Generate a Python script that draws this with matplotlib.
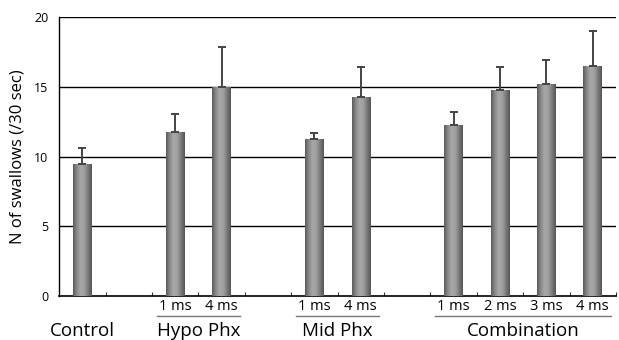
import numpy as np
import matplotlib
matplotlib.use("Agg")
import matplotlib.pyplot as plt
from matplotlib.colors import LinearSegmentedColormap
import matplotlib.transforms as mtransforms

# Data
slots = [0, 2, 3, 5, 6, 8, 9, 10, 11]
values = [9.5, 11.8, 15.0, 11.25, 14.25, 12.25, 14.8, 15.2, 16.5]
errors = [1.1, 1.25, 2.9, 0.47, 2.15, 0.95, 1.65, 1.75, 2.5]
sub_labels = ["", "1 ms", "4 ms", "1 ms", "4 ms", "1 ms", "2 ms", "3 ms", "4 ms"]
groups = ["Control", "Hypo Phx", "Mid Phx", "Combination"]
group_members = [[0], [2, 3], [5, 6], [8, 9, 10, 11]]
yticks = [0, 5, 10, 15, 20]
ylabel = "N of swallows (/30 sec)"

plt.rcParams['font.family'] = ['Open Sans', 'DejaVu Sans']

fig = plt.figure(figsize=(6.19, 3.4), dpi=100)
ax = fig.add_axes([0.0958, 0.1294, 0.8992, 0.8196])

ax.set_xlim(-0.5, 11.5)
ax.set_ylim(0, 20)

for y in yticks[1:]:
    ax.axhline(y, color="black", lw=1.0, zorder=1)

bar_w = 0.4
bars = ax.bar(slots, values, width=bar_w, color="#888888", zorder=2)
cmap = LinearSegmentedColormap.from_list(
    "cyl", ["#5a5a5a", "#8a8a8a", "#a8a8a8", "#a0a0a0", "#7a7a7a", "#555555"])
grad = np.linspace(0, 1, 64).reshape(1, -1)
for b in bars:
    x0, y0 = b.get_x(), b.get_y()
    w, h = b.get_width(), b.get_height()
    im = ax.imshow(grad, cmap=cmap, aspect="auto", extent=[x0, x0 + w, y0, y0 + h],
                   zorder=3, interpolation="bicubic")
    im.set_clip_path(b)
ax.set_xlim(-0.5, 11.5)
ax.set_ylim(0, 20)

ax.errorbar(slots, values, yerr=[np.zeros(len(errors)), errors], fmt="none",
            ecolor="#444444", elinewidth=1.4, capsize=3.2, capthick=1.4, zorder=4)

for s in ["top", "right"]:
    ax.spines[s].set_visible(False)
ax.spines["left"].set_linewidth(1.0)
ax.spines["bottom"].set_linewidth(1.2)

ax.set_yticks(yticks)
ax.set_yticklabels([str(t) for t in yticks], fontsize=9)
ax.tick_params(axis="y", length=0, pad=8)
ax.set_xticks(np.arange(0.5, 12, 1))
ax.set_xticklabels([])
ax.tick_params(axis="x", direction="in", length=3, width=0.8, color="#333333")

ax.set_ylabel(ylabel, fontsize=12, labelpad=6)

trans = mtransforms.blended_transform_factory(ax.transData, ax.transAxes)
for s, lab in zip(slots, sub_labels):
    if lab:
        ax.text(s, -0.037, lab, transform=trans, ha="center", va="center", fontsize=10.5)
for g, mem in zip(groups, group_members):
    c = (mem[0] + mem[-1]) / 2
    ax.text(c, -0.124, g, transform=trans, ha="center", va="center", fontsize=13.5)
    if len(mem) > 1:
        ax.plot([mem[0] - 0.4, mem[-1] + 0.4], [-0.072, -0.072], transform=trans,
                color="#777777", lw=1.0, clip_on=False)

fig.savefig("out.png", dpi=100)
